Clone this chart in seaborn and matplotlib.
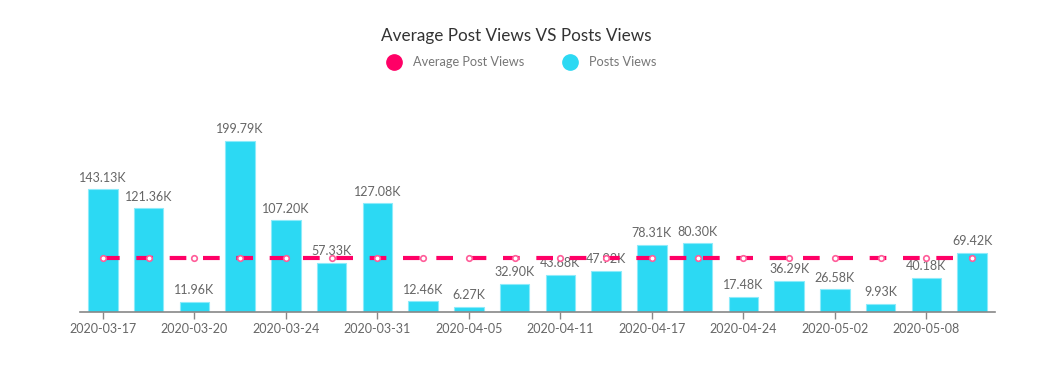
import matplotlib
matplotlib.use("Agg")
import matplotlib.pyplot as plt
from matplotlib.lines import Line2D
import seaborn as sns
import pandas as pd

dates = ["2020-03-17", "2020-03-18", "2020-03-20", "2020-03-22", "2020-03-24",
         "2020-03-27", "2020-03-31", "2020-04-02", "2020-04-05", "2020-04-08",
         "2020-04-11", "2020-04-14", "2020-04-17", "2020-04-20", "2020-04-24",
         "2020-04-28", "2020-05-02", "2020-05-05", "2020-05-08", "2020-05-11"]
post_views = [143.13, 121.36, 11.96, 199.79, 107.20, 57.33, 127.08, 12.46, 6.27, 32.90,
              43.68, 47.92, 78.31, 80.30, 17.48, 36.29, 26.58, 9.93, 40.18, 69.42]
avg_views = [63.48, 63.48, 63.48, 63.48, 63.48, 63.48, 63.48, 63.48, 63.48, 63.48,
             63.48, 63.48, 63.48, 63.48, 63.48, 63.48, 63.48, 63.48, 63.48, 63.48]

title = "Average Post Views VS Posts Views"
legend_labels = ["Average Post Views", "Posts Views"]

CYAN = "#2CD9F3"
PINK = "#FF0066"

sns.set_theme(style="white")
plt.rcParams["font.family"] = ["Lato", "DejaVu Sans"]

df = pd.DataFrame({"date": dates, "views": post_views, "avg": avg_views})

fig = plt.figure(figsize=(10.54, 3.65), dpi=100)
ax = fig.add_axes([80 / 1054, 53 / 365, 915 / 1054, 212 / 365])

sns.barplot(data=df, x="date", y="views", color=CYAN, width=0.65,
            edgecolor="#8CEBFA", linewidth=0.8, saturation=1, ax=ax, zorder=2)

sns.lineplot(data=df, x="date", y="avg", ax=ax, color=PINK, linewidth=3.0,
             marker="o", markersize=4, markerfacecolor="white",
             markeredgecolor="#FF5C99", markeredgewidth=1.2, zorder=5)
ax.lines[-1].set_dashes((4, 4))

for i, v in enumerate(post_views):
    ax.annotate(f"{v:.2f}K", (i, v), xytext=(0, 4), textcoords="offset points",
                ha="center", va="bottom", fontsize=9, color="#666666", zorder=3)

ax.set_xlim(-0.5, len(dates) - 0.5)
ax.set_ylim(0, 247.7)
ax.set_xlabel("")
ax.set_ylabel("")
ax.set_yticks([])
ax.set_xticks(range(0, len(dates), 2))
ax.set_xticklabels(dates[::2], fontsize=9, color="#666666")
ax.tick_params(axis="x", length=5, width=1, color="#888888", pad=3, bottom=True)
for s in ["top", "right", "left"]:
    ax.spines[s].set_visible(False)
ax.spines["bottom"].set_color("#888888")
ax.spines["bottom"].set_linewidth(1.2)

fig.text(516 / 1054, 1 - 36 / 365, title, ha="center", va="center", fontsize=12.3, color="#333333")

handles = [Line2D([], [], linestyle="none", marker="o", markersize=11,
                  markerfacecolor=PINK, markeredgecolor=PINK),
           Line2D([], [], linestyle="none", marker="o", markersize=11,
                  markerfacecolor=CYAN, markeredgecolor=CYAN)]
leg = fig.legend(handles, legend_labels, loc="center", bbox_to_anchor=(519 / 1054, 1 - 62 / 365),
                 ncol=2, frameon=False, fontsize=9.2, columnspacing=2.6,
                 handletextpad=0.5, labelcolor="#777777")

fig.savefig("out.png", dpi=100)
